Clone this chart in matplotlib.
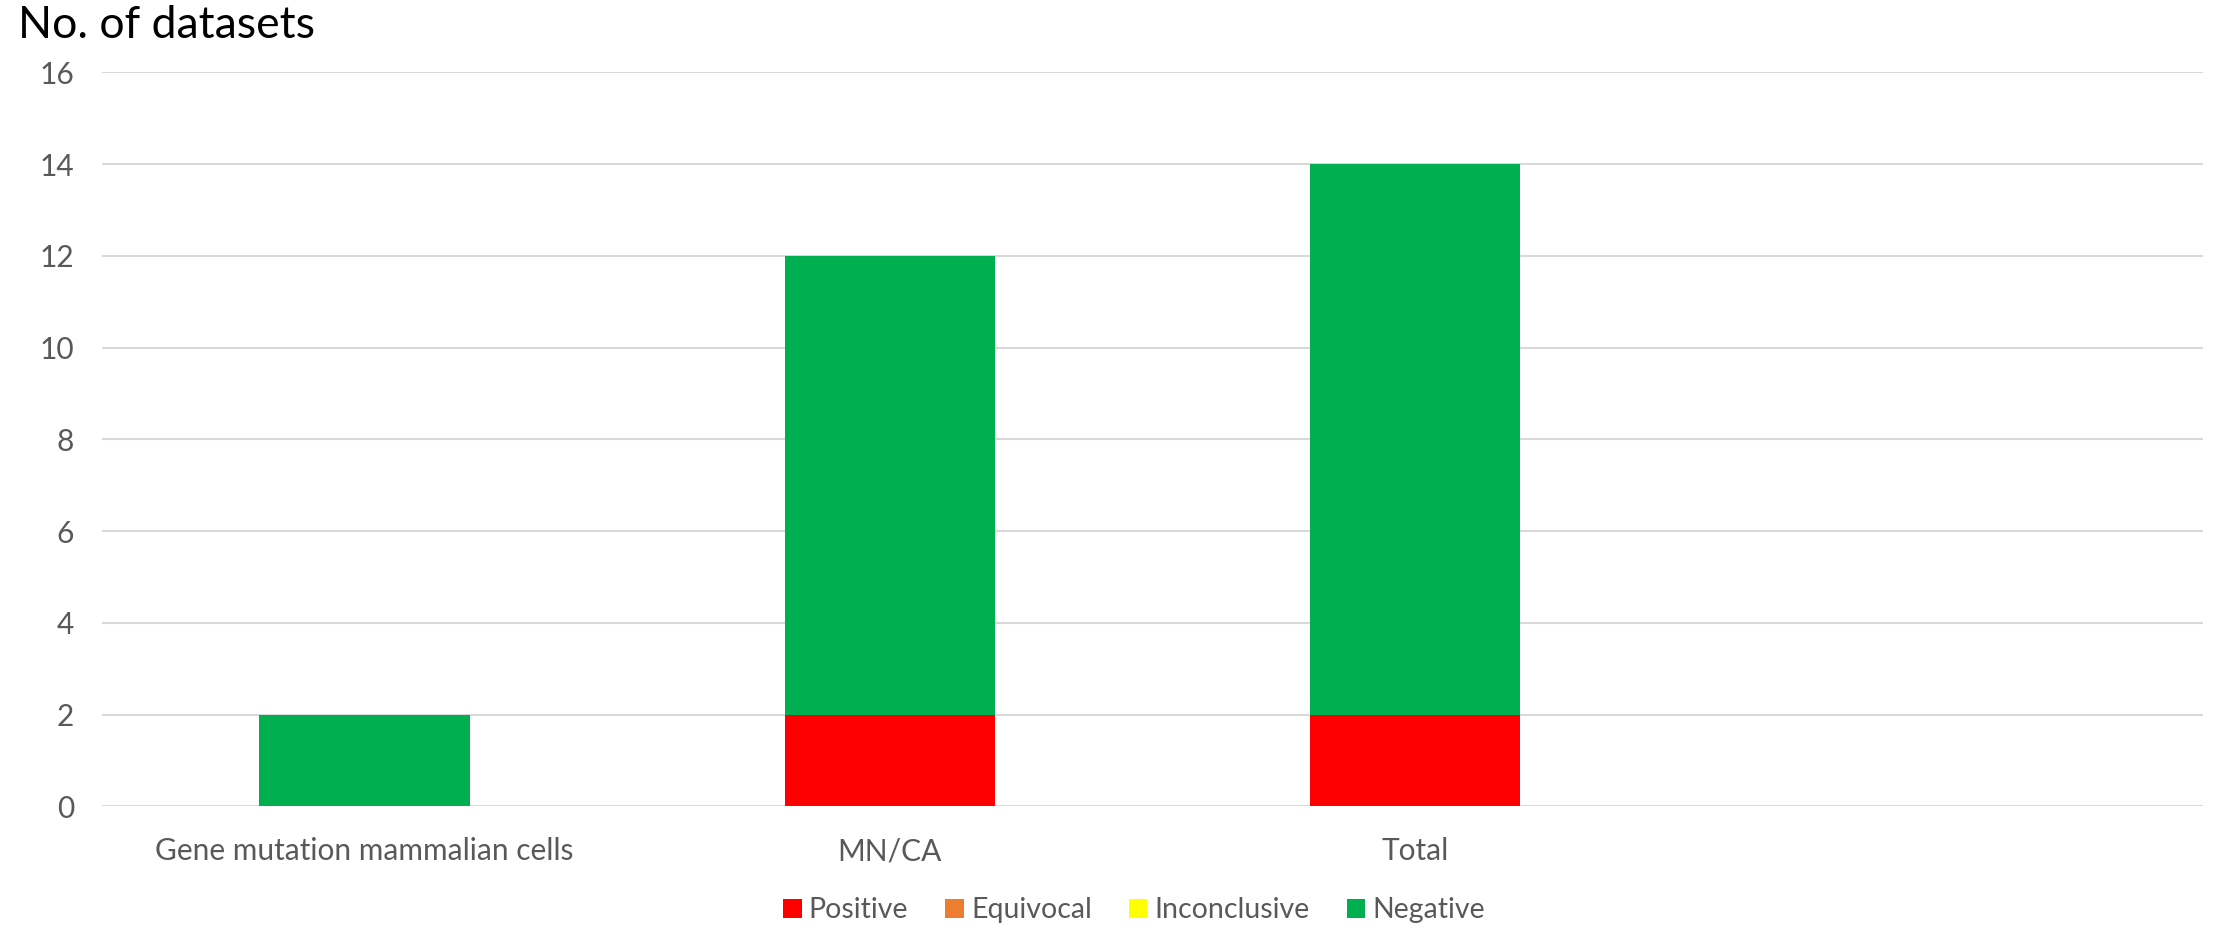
import numpy as np
import matplotlib.pyplot as plt

# 各類試驗的資料集數目
categories = ["Gene mutation mammalian cells", "MN/CA", "Total", ""]
positive = [0, 2, 2, 0]
equivocal = [0, 0, 0, 0]
inconclusive = [0, 0, 0, 0]
negative = [2, 10, 12, 0]

series_names = ["Positive", "Equivocal", "Inconclusive", "Negative"]
series_colors = ["#FF0000", "#ED7D31", "#FFFF00", "#00B050"]
y_ticks = [0, 2, 4, 6, 8, 10, 12, 14, 16]

plt.rcParams['font.family'] = ['Lato', 'DejaVu Sans']

fig = plt.figure(figsize=(22.15, 9.27), dpi=100)
ax = fig.add_axes([0.046, 0.13, 0.9486, 0.792])

x = np.arange(len(categories))
bottom = np.zeros(len(categories))
for name, vals, color in zip(series_names, [positive, equivocal, inconclusive, negative], series_colors):
    ax.bar(x, vals, width=0.4, bottom=bottom, color=color, label=name, zorder=3)
    bottom += np.array(vals)

ax.set_xlim(-0.5, len(categories) - 0.5)
ax.set_ylim(0, 16)
ax.set_yticks(y_ticks)
ax.set_xticks(x)
ax.set_xticklabels(categories)
ax.tick_params(axis='both', length=0, labelsize=21.5, colors="#595959")
ax.tick_params(axis='x', pad=22)
ax.tick_params(axis='y', pad=20)
ax.grid(axis='y', color="#D9D9D9", linewidth=1.5, zorder=0)
for s in ax.spines.values():
    s.set_visible(False)

fig.text(0.008, 0.972, "No. of datasets", fontsize=32, va='center', ha='left', color="black")

fig.legend(loc='center', bbox_to_anchor=(0.512, 0.018), ncol=4, frameon=False,
           fontsize=20.5, handlelength=0.65, handleheight=0.65, handletextpad=0.25,
           columnspacing=1.3, labelcolor="#595959")

fig.savefig("out.png", dpi=100)
